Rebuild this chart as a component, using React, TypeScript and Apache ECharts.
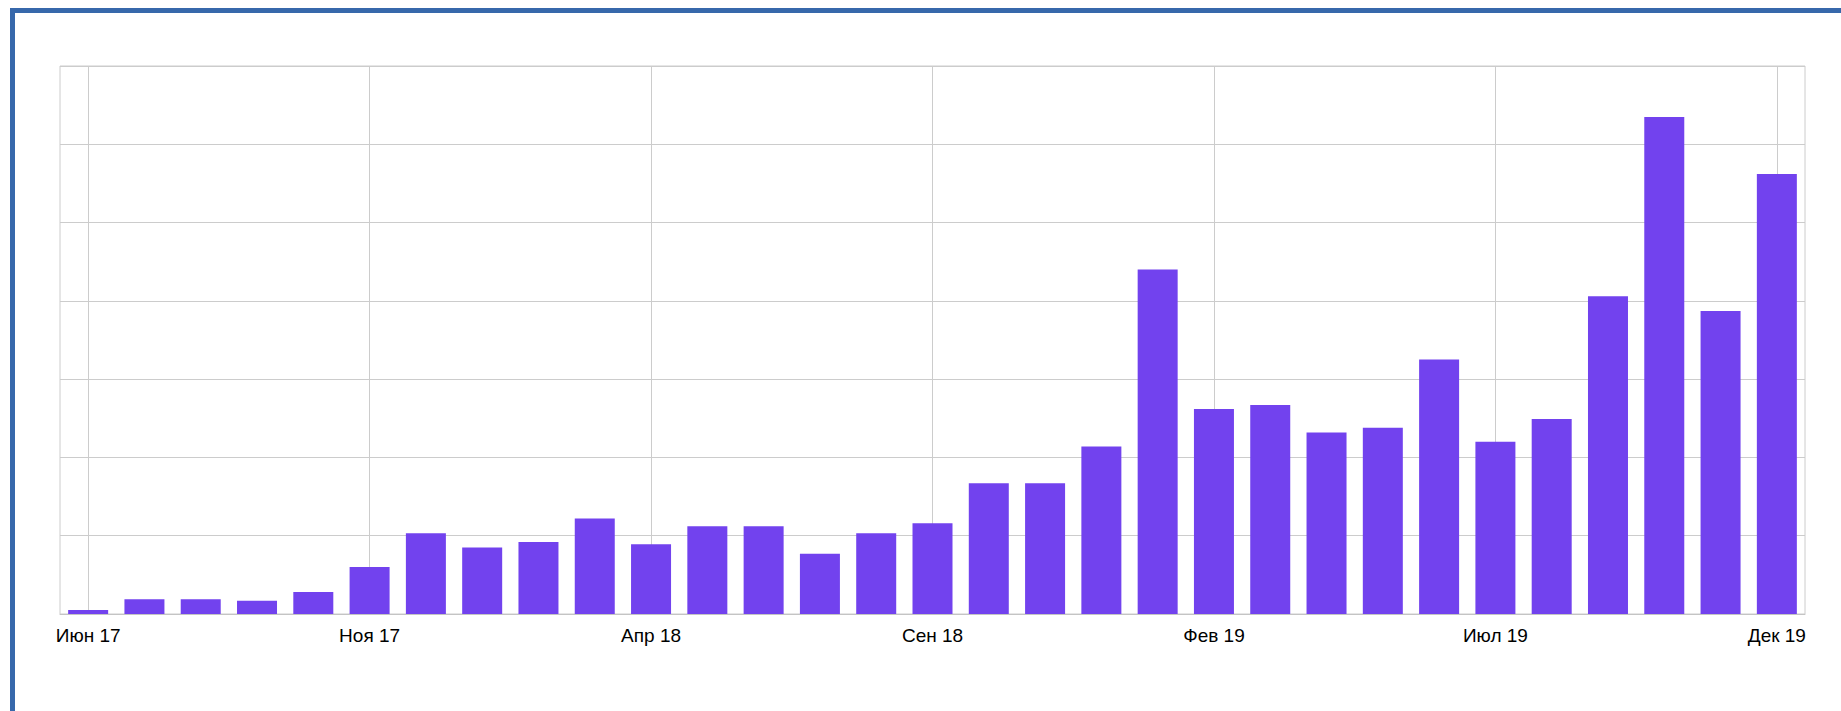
import React, { useEffect, useRef } from "react";
import * as echarts from "echarts";

const months: string[] = [
  "Июн 17", "Июл 17", "Авг 17", "Сен 17", "Окт 17", "Ноя 17", "Дек 17",
  "Янв 18", "Фев 18", "Мар 18", "Апр 18", "Май 18", "Июн 18", "Июл 18",
  "Авг 18", "Сен 18", "Окт 18", "Ноя 18", "Дек 18", "Янв 19", "Фев 19",
  "Мар 19", "Апр 19", "Май 19", "Июн 19", "Июл 19", "Авг 19", "Сен 19",
  "Окт 19", "Ноя 19", "Дек 19",
];

const values: number[] = [
  0.5, 1.9, 1.9, 1.7, 2.8, 6.0, 10.3, 8.5, 9.2, 12.2, 8.9, 11.2, 11.2, 7.7,
  10.3, 11.6, 16.7, 16.7, 21.4, 44.0, 26.2, 26.7, 23.2, 23.8, 32.5, 22.0,
  24.9, 40.6, 63.5, 38.7, 56.2,
];

const yMin = 0;
const yMax = 70;
const yStep = 10;
const labelEvery = 5;

export default function App() {
  const ref = useRef<HTMLDivElement>(null);

  useEffect(() => {
    if (!ref.current) return;
    const chart = echarts.init(ref.current, undefined, { renderer: "svg" });
    chart.setOption({
      animation: false,
      backgroundColor: "#ffffff",
      grid: {
        left: 60,
        top: 66,
        right: 36,
        bottom: 97,
        show: true,
        borderColor: "#cccccc",
        borderWidth: 1,
        backgroundColor: "transparent",
      },
      xAxis: {
        type: "category",
        data: months,
        boundaryGap: true,
        axisLine: { show: true, lineStyle: { color: "#c4c4c4", width: 1 } },
        axisTick: { show: false },
        axisLabel: {
          interval: labelEvery - 1,
          color: "#000000",
          fontFamily: "'Liberation Sans', Arial, sans-serif",
          fontSize: 19,
          margin: 12,
        },
        splitLine: {
          show: true,
          interval: labelEvery - 1,
          alignWithLabel: true,
          lineStyle: { color: "#cccccc", width: 1 },
        },
      },
      yAxis: {
        type: "value",
        min: yMin,
        max: yMax,
        interval: yStep,
        axisLine: { show: false },
        axisTick: { show: false },
        axisLabel: { show: false },
        splitLine: { show: true, lineStyle: { color: "#cccccc", width: 1 } },
      },
      series: [
        {
          type: "bar",
          data: values,
          barWidth: 40,
          itemStyle: { color: "#7242ee" },
        },
      ],
    });
    return () => chart.dispose();
  }, []);

  return (
    <>
      <div
        ref={ref}
        style={{ position: "fixed", left: 0, top: 0, width: 1841, height: 711 }}
      />
      <div
        style={{
          position: "fixed",
          left: 10,
          top: 8,
          right: 0,
          bottom: 0,
          borderTop: "5px solid #3768ab",
          borderLeft: "5px solid #3768ab",
          boxSizing: "border-box",
          pointerEvents: "none",
        }}
      />
    </>
  );
}
